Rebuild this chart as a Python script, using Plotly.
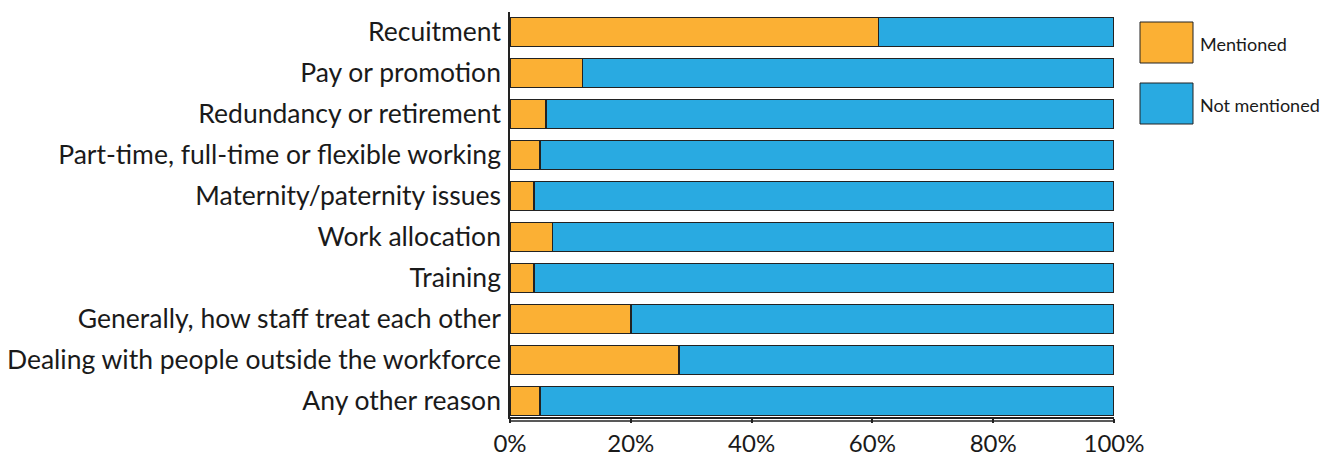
import plotly.graph_objects as go

categories = [
    "Recuitment",
    "Pay or promotion",
    "Redundancy or retirement",
    "Part-time, full-time or flexible working",
    "Maternity/paternity issues",
    "Work allocation",
    "Training",
    "Generally, how staff treat each other",
    "Dealing with people outside the workforce",
    "Any other reason",
]
mentioned = [61, 12, 6, 5, 4, 7, 4, 20, 28, 5]
not_mentioned = [100 - v for v in mentioned]
x_ticks = [0, 20, 40, 60, 80, 100]
x_tick_labels = ["0%", "20%", "40%", "60%", "80%", "100%"]

ORANGE = "#FBB034"
BLUE = "#29AAE1"
OUTLINE = "#222222"
FONT = "Lato, 'Open Sans', sans-serif"

fig = go.Figure()
fig.add_trace(go.Bar(
    y=categories, x=mentioned, orientation="h", name="Mentioned",
    marker=dict(color=ORANGE, line=dict(color=OUTLINE, width=1.5)),
    showlegend=False, hoverinfo="x+y",
))
fig.add_trace(go.Bar(
    y=categories, x=not_mentioned, orientation="h", name="Not mentioned",
    marker=dict(color=BLUE, line=dict(color=OUTLINE, width=1.5)),
    showlegend=False, hoverinfo="x+y",
))

W, H = 1343, 454
ml, mr, mt, mb = 510, 229, 12, 37
pw, ph = W - ml - mr, H - mt - mb

def px_x(x):
    return (x - ml) / pw

def px_y(y):
    return 1 - (y - mt) / ph

# Legend drawn as boxes + text (large swatches as in reference)
legend_items = [("Mentioned", ORANGE), ("Not mentioned", BLUE)]
shapes = []
annotations = []
for i, (name, col) in enumerate(legend_items):
    top = 22 + i * 61
    bot = top + 41
    y0, y1 = px_y(bot), px_y(top)
    shapes.append(dict(type="rect", xref="paper", yref="paper",
                       x0=px_x(1140), x1=px_x(1193), y0=y0, y1=y1,
                       fillcolor=col, line=dict(color=OUTLINE, width=1)))
    annotations.append(dict(xref="paper", yref="paper", x=px_x(1198),
                            y=(y0 + y1) / 2, xanchor="left", yanchor="middle",
                            yshift=-1.5,
                            text=name, showarrow=False,
                            font=dict(family=FONT, size=18, color="#1a1a1a")))

# secondary baseline below the x axis
shapes.append(dict(type="line", xref="x", yref="paper", x0=0, x1=100,
                   y0=-4 / ph, y1=-4 / ph, line=dict(color=OUTLINE, width=1.5)))

fig.update_layout(
    width=W, height=H,
    margin=dict(l=ml, r=mr, t=mt, b=mb, pad=0, autoexpand=False),
    barmode="stack", bargap=0.29,
    plot_bgcolor="white", paper_bgcolor="white",
    font=dict(family=FONT, size=26.5, color="#1a1a1a"),
    shapes=shapes, annotations=annotations,
    xaxis=dict(range=[0, 100], tickvals=x_ticks, ticktext=x_tick_labels,
               showgrid=False, zeroline=False, showline=True,
               linecolor=OUTLINE, linewidth=1.5, ticks="outside",
               ticklen=4, tickwidth=1.5, tickcolor=OUTLINE,
               automargin=False,
               tickfont=dict(size=24), fixedrange=True),
    yaxis=dict(range=[9.39, -0.49], showgrid=False, zeroline=False,
               showline=True, linecolor=OUTLINE, linewidth=1.5,
               ticks="", ticklabelstandoff=2, tickfont=dict(size=26.5),
               automargin=False, fixedrange=True),
)

fig.write_html(
    "out.html",
    config={"displayModeBar": False},
    post_script="document.body.style.margin='0';document.body.style.overflow='hidden';",
)
